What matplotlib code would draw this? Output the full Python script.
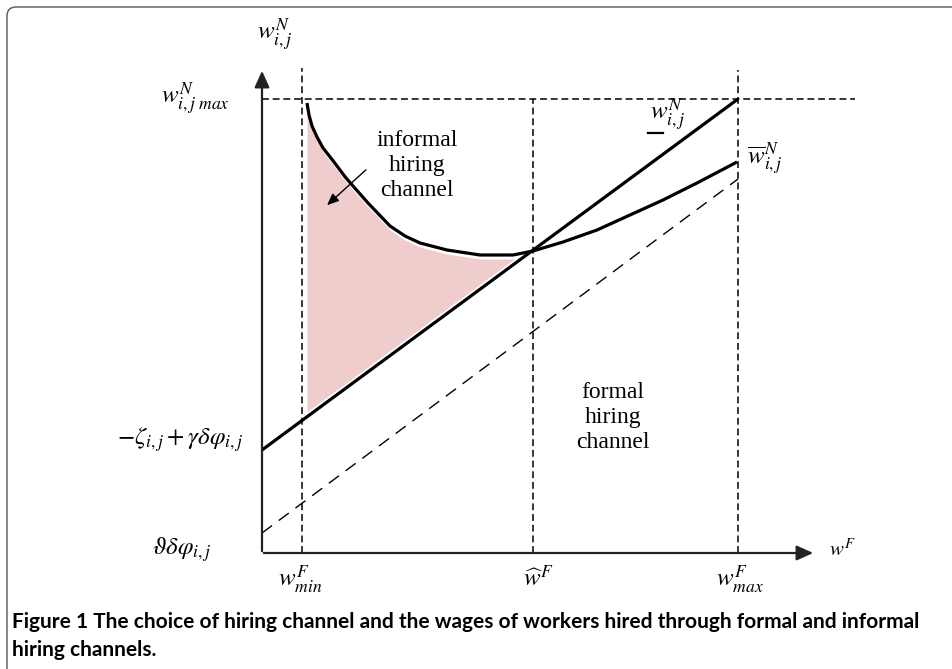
import numpy as np
import matplotlib.pyplot as plt
from matplotlib.patches import FancyBboxPatch

plt.rcParams['mathtext.fontset'] = 'stix'

# diagram values (origin = where the two axes meet)
w_min = 40
w_hat = 271
w_max = 476
wN_max = 454
line_lo = [0, 103]          # -zeta + gamma*delta*phi  (start of lower bound)
line_hi = [w_max, wN_max]   # lower bound reaches wN_max at w_max
dash_lo = [0, 20]           # theta*delta*phi
dash_hi = [w_max, 374]

curve_x = [45, 47, 50, 55, 61, 72, 84, 106, 128, 143, 158, 185, 218, 251, 271, 301, 335, 368, 401, 435, 475]
curve_y = [450, 438, 427, 416, 405, 391, 375, 350, 327, 317, 310, 303, 298, 298, 302, 311, 323, 338, 353, 370, 391]

fig = plt.figure(figsize=(9.52, 6.69), dpi=100)
ax = fig.add_axes([0, 0, 1, 1])
ax.set_xlim(-262, 690)
ax.set_ylim(-116, 553)
ax.axis('off')

# frame around the figure
ax.add_patch(FancyBboxPatch((-255, -200), 1000, 746, boxstyle="round,pad=0,rounding_size=9",
                            fc='none', ec='#555555', lw=1.0))

# shaded informal region
cx = np.array(curve_x, dtype=float)
cy = np.array(curve_y, dtype=float)
slope = (line_hi[1] - line_lo[1]) / (line_hi[0] - line_lo[0])
m = cx <= w_hat
fx = cx[m]
upper = cy[m] - 4
lower = line_lo[1] + slope * fx + 5
ax.fill_between(fx, lower, upper, where=upper >= lower, interpolate=True, color='#efcdcd', lw=0)

# dashed guides
dk = dict(color='black', lw=1.1, ls=(0, (4.5, 2.5)))
ax.plot([w_min, w_min], [0, 485], **dk)
ax.plot([w_hat, w_hat], [0, wN_max], **dk)
ax.plot([w_max, w_max], [0, 483], **dk)
ax.plot([0, 593], [wN_max, wN_max], **dk)
ax.plot([dash_lo[0], dash_hi[0]], [dash_lo[1], dash_hi[1]], color='black', lw=1.0, ls=(0, (9, 6)))

# solid lines
ax.plot([line_lo[0], line_hi[0]], [line_lo[1], line_hi[1]], color='black', lw=2.3, solid_capstyle='butt')
ax.plot(curve_x, curve_y, color='black', lw=2.3, solid_capstyle='butt', solid_joinstyle='round')

# axes with arrows
ax.annotate('', xy=(0, 485), xytext=(0, -1),
            arrowprops=dict(arrowstyle='-|>,head_length=1.0,head_width=0.45', color='#222222', lw=1.6))
ax.annotate('', xy=(554, 0), xytext=(-1, 0),
            arrowprops=dict(arrowstyle='-|>,head_length=1.0,head_width=0.45', color='#222222', lw=1.6))

fs = 18
ax.text(13, 518, r'$w_{i,j}^{N}$', fontsize=fs, ha='center', va='center')
ax.text(-32, 454, r'$w_{i,j\ max}^{N}$', fontsize=fs, ha='right', va='center')
ax.text(-18, 113, r'$-\zeta_{i,j}+\gamma\delta\varphi_{i,j}$', fontsize=fs, ha='right', va='center')
ax.text(-50, 3, r'$\vartheta\delta\varphi_{i,j}$', fontsize=fs, ha='right', va='center')
ax.text(38, -27, r'$w_{min}^{F}$', fontsize=fs, ha='center', va='center')
ax.text(276, -25, r'$\widehat{w}^{F}$', fontsize=fs, ha='center', va='center')
ax.text(478, -27, r'$w_{max}^{F}$', fontsize=fs, ha='center', va='center')
ax.text(580, 4, r'$w^{F}$', fontsize=fs - 3, ha='center', va='center')

ax.text(406, 438, r'$w_{i,j}^{N}$', fontsize=fs, ha='center', va='center')
ax.plot([386, 401], [420, 420], color='black', lw=1.6)
ax.text(503, 394, r'$\overline{w}_{i,j}^{N}$', fontsize=fs, ha='center', va='center')

ax.text(155, 388, 'informal\nhiring\nchannel', fontsize=17, family='Liberation Serif',
        ha='center', va='center', linespacing=1.25)
ax.annotate('', xy=(63, 346), xytext=(106, 385),
            arrowprops=dict(arrowstyle='-|>,head_length=0.7,head_width=0.3', color='black', lw=1.0))
ax.text(351, 135, 'formal\nhiring\nchannel', fontsize=17, family='Liberation Serif',
        ha='center', va='center', linespacing=1.25)

ax.text(-250, -69, 'Figure 1 The choice of hiring channel and the wages of workers hired through formal and informal',
        fontsize=15, fontweight='bold', family='Lato', ha='left', va='center')
ax.text(-250, -97, 'hiring channels.', fontsize=15, fontweight='bold', family='Lato', ha='left', va='center')

fig.savefig('out.png', dpi=100)
